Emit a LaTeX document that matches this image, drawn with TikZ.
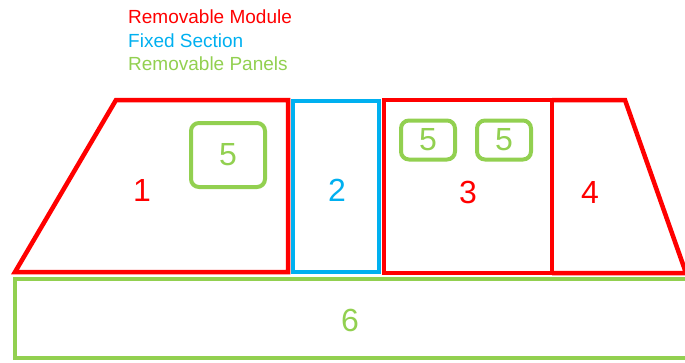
\documentclass[tikz,border=0pt]{standalone}
\usepackage{fontspec}
\setmainfont{Liberation Sans}
\definecolor{modred}{HTML}{FF0000}
\definecolor{fixblue}{HTML}{00B0F0}
\definecolor{panelgreen}{HTML}{92D050}
\begin{document}
\begin{tikzpicture}[x=1pt,y=-1pt,
  module/.style={draw=modred,line width=4.5pt,line join=miter},
  fixed/.style={draw=fixblue,line width=4.5pt},
  panel/.style={draw=panelgreen,line width=4pt,rounded corners=8pt,inner sep=0pt},
  num/.style={font=\fontsize{32}{32}\selectfont,inner sep=0pt},
  legend/.style={font=\fontsize{19}{19}\selectfont,anchor=west,inner sep=0pt}]
  \useasboundingbox (0,0) rectangle (685,362);
  % legend
  \node[legend,text=modred] (lgA) at (128,17) {Removable Module};
  \node[legend,text=fixblue] (lgB) at (128,41) {Fixed Section};
  \node[legend,text=panelgreen] (lgC) at (128,64) {Removable Panels};
  % base panel
  \draw[draw=panelgreen,line width=4pt] (15,279) rectangle (692,358);
  % module 1
  \draw[module] (116,100) -- (288,100) -- (288,272) -- (15,272) -- cycle;
  % fixed section 2
  \draw[fixed] (293,101) rectangle (379,272);
  % module 3
  \draw[module] (384,100) rectangle (552,273);
  % module 4
  \draw[module] (552,100) -- (625,100) -- (686,273) -- (552,273);
  % removable panels
  \node[panel,minimum width=74pt,minimum height=64pt] (p1) at (228,155) {};
  \node[panel,minimum width=54pt,minimum height=39pt] (p2) at (428,140) {};
  \node[panel,minimum width=54pt,minimum height=39pt] (p3) at (504,140) {};
  % labels
  \node[num,text=modred] (n1) at (142,190) {1};
  \node[num,text=fixblue] (n2) at (337,190) {2};
  \node[num,text=modred] (n3) at (468,192) {3};
  \node[num,text=modred] (n4) at (590,192) {4};
  \node[num,text=panelgreen] at (p1) {5};
  \node[num,text=panelgreen] at (p2) {5};
  \node[num,text=panelgreen] at (p3) {5};
  \node[num,text=panelgreen] (n6) at (350,320) {6};
\end{tikzpicture}
\end{document}
